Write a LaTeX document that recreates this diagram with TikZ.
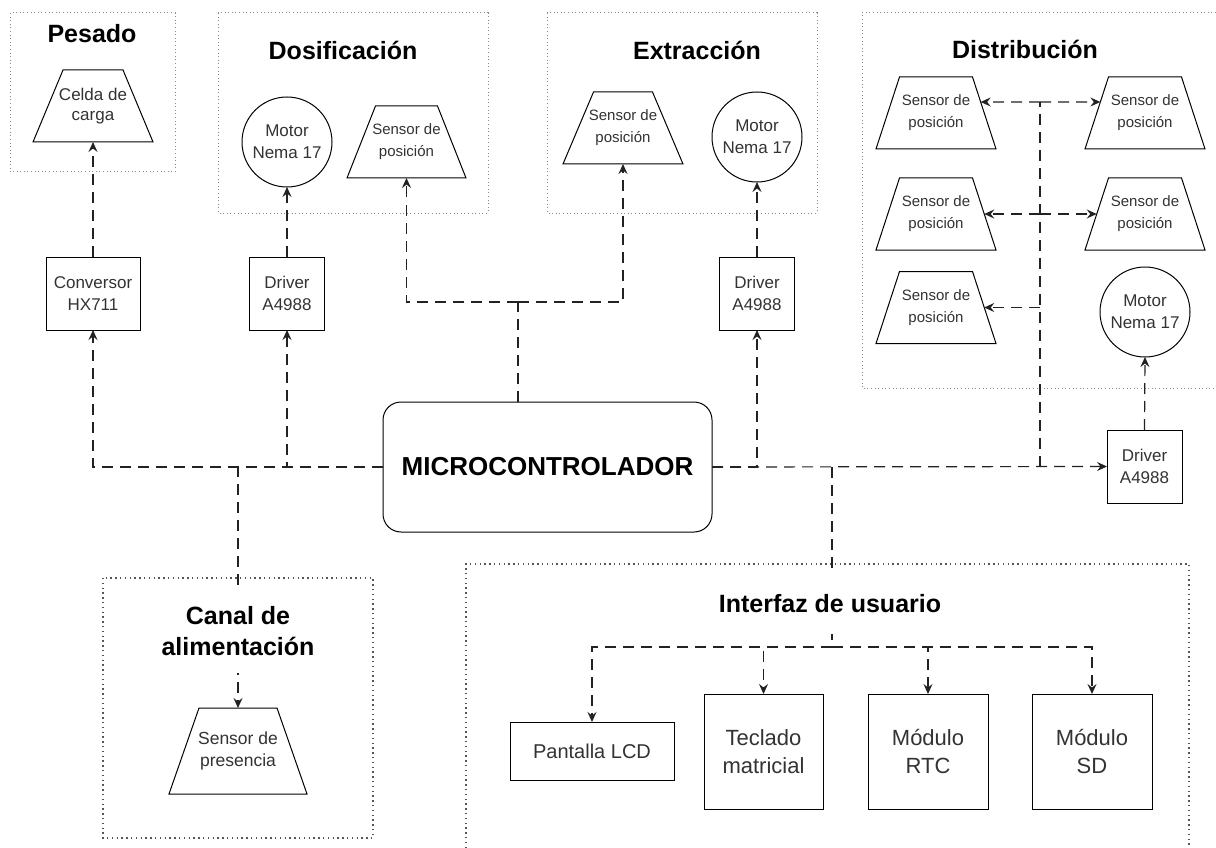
\documentclass[tikz,border=0pt]{standalone}
\usepackage{fontspec}
\setmainfont{Liberation Sans}
\usetikzlibrary{shapes.geometric,arrows.meta,calc}
\definecolor{txt}{HTML}{333333}
\definecolor{grpc}{HTML}{8A8A8A}
\definecolor{grpd}{HTML}{555555}
\definecolor{lnc}{HTML}{222222}
\newcommand\drawtrap[2]{\draw[line width=1pt, draw=black, line join=miter] (#1.south west) -- ($(#1.north west)+(#2,0)$) -- ($(#1.north east)+(-#2,0)$) -- (#1.south east) -- cycle;}
\begin{document}
\begin{tikzpicture}[x=1pt,y=-1pt,
  grp/.style={draw=grpc, line width=1pt, dash pattern=on 1pt off 2.6pt},
  grpb/.style={draw=grpd, line width=1.4pt, dash pattern=on 1.4pt off 3.4pt},
  ttl/.style={font=\bfseries\fontsize{25}{31}\selectfont, text=black, inner sep=0pt, align=center},
  blk/.style={draw=black, line width=1pt, text=txt, font=\fontsize{17}{22}\selectfont, align=center, inner sep=0pt, outer sep=0pt},
  mot/.style={blk, circle, minimum size=90pt},
  trapbox/.style={blk, draw=none, rectangle, font=\fontsize{15}{22}\selectfont},
  ifc/.style={blk, font=\fontsize{22}{28}\selectfont},
  ln/.style={draw=lnc, line width=1.2pt, dash pattern=on 11pt off 7pt},
  conn/.style={ln, -{Stealth[length=10pt,width=9pt,inset=3.5pt]}}]
\useasboundingbox (0,0) rectangle (1216,848);
\fill[white] (0,0) rectangle (1216,848);

% group boxes
\draw[grp] (10,13) rectangle (175,172);
\draw[grp] (218,13) rectangle (488,213);
\draw[grp] (547,13) rectangle (817,213);
\draw[grp] (1216,13) -- (862,13) -- (862,388) -- (1216,388);
\draw[grpb] (103,578) rectangle (373,838);
\draw[grpb] (466,848) -- (466,564) -- (1189,564) -- (1189,848);

% titles (upper)
\node[ttl] (tPes) at (92,34) {Pesado};
\node[ttl] (tDos) at (343,50) {Dosificación};
\node[ttl] (tExt) at (697,50) {Extracción};
\node[ttl] (tDis) at (1025,49) {Distribución};

% Pesado
\node[trapbox, minimum width=120pt, minimum height=72pt, font=\fontsize{17}{20.5}\selectfont] (celda) at (93,106) {Celda de\\carga};
\drawtrap{celda}{30}
\node[blk, minimum width=94pt, minimum height=73pt] (conv) at (93,293.5) {Conversor\\HX711};

% Dosificacion
\node[mot] (motorD) at (287,142) {Motor\\Nema 17};
\node[trapbox, minimum width=119pt, minimum height=72pt] (sensD) at (406.5,142) {Sensor de\\posición};
\drawtrap{sensD}{28.5}
\node[blk, minimum width=75pt, minimum height=73pt] (drvD) at (287,293.5) {Driver\\A4988};

% Extraccion
\node[trapbox, minimum width=120pt, minimum height=72pt] (sensE) at (623,128) {Sensor de\\posición};
\drawtrap{sensE}{30.5}
\node[mot] (motorE) at (757,137) {Motor\\Nema 17};
\node[blk, minimum width=75pt, minimum height=73pt] (drvE) at (757,293.5) {Driver\\A4988};

% Distribucion
\node[trapbox, minimum width=120pt, minimum height=72pt] (L1) at (936,113) {Sensor de\\posición};
\node[trapbox, minimum width=120pt, minimum height=72pt] (L2) at (936,214) {Sensor de\\posición};
\node[trapbox, minimum width=120pt, minimum height=72pt] (L3) at (936,307.5) {Sensor de\\posición};
\node[trapbox, minimum width=120pt, minimum height=72pt] (R1) at (1145,113) {Sensor de\\posición};
\node[trapbox, minimum width=120pt, minimum height=72pt] (R2) at (1145,214) {Sensor de\\posición};
\drawtrap{L1}{23.5}
\drawtrap{L2}{23.5}
\drawtrap{L3}{23.5}
\drawtrap{R1}{23.5}
\drawtrap{R2}{23.5}
\node[mot] (motorR) at (1145,312) {Motor\\Nema 17};
\node[blk, minimum width=75pt, minimum height=73pt] (drvR) at (1144.5,466.5) {Driver\\A4988};

% Micro
\node[blk, rounded corners=18pt, minimum width=329pt, minimum height=130pt, text=black, font=\bfseries\fontsize{26}{30}\selectfont] (micro) at (547.5,467) {MICROCONTROLADOR};

% Canal
\node[trapbox, minimum width=138pt, minimum height=86pt, font=\fontsize{17.5}{21.5}\selectfont] (sensC) at (238,751) {Sensor de\\presencia};
\drawtrap{sensC}{30}

% Interfaz
\node[blk, minimum width=164pt, minimum height=58pt, font=\fontsize{20}{24}\selectfont] (lcd) at (592,751) {Pantalla LCD};
\node[ifc, minimum width=119pt, minimum height=115pt] (tec) at (763.5,751.5) {Teclado\\matricial};
\node[ifc, minimum width=120pt, minimum height=115pt] (rtc) at (928,751.5) {Módulo\\RTC};
\node[ifc, minimum width=120pt, minimum height=115pt] (sd) at (1092,751.5) {Módulo\\SD};

% connectors
\draw[conn] (conv.north) -- (celda.south);
\draw[conn] (drvD.north) -- (motorD.south);
\draw[conn] (drvE.north) -- (motorE.south);
\draw[conn] (drvR.north) -- (motorR.south);

\draw[conn] (micro.west) -| (conv.south);
\draw[conn] (micro.west) -| (drvD.south);
\draw[conn] (micro.west) -| (sensC.north);

\coordinate (mtop) at ([xshift=-29.5pt]micro.north);
\coordinate (jt) at (518,302);
\draw[ln] (mtop) -- (jt);
\draw[conn] (jt) -| (sensD.south);
\draw[conn] (jt) -| (sensE.south);

\draw[conn] (micro.east) -| (drvE.south);
\draw[conn] (micro.east) -- (drvR.west);

\coordinate (jR) at (1040,467);
\coordinate (jR1) at (1040,102);
\coordinate (jR2) at (1040,214);
\coordinate (jR3) at (1040,307.5);
\coordinate (L1s) at ($($(L1.north east)+(-23.5,0)$)!0.347!(L1.south east)$);
\coordinate (L2s) at ($($(L2.north east)+(-23.5,0)$)!0.5!(L2.south east)$);
\coordinate (L3s) at ($($(L3.north east)+(-23.5,0)$)!0.5!(L3.south east)$);
\coordinate (R1s) at ($($(R1.north west)+(23.5,0)$)!0.347!(R1.south west)$);
\coordinate (R2s) at ($($(R2.north west)+(23.5,0)$)!0.5!(R2.south west)$);
\draw[ln] (jR) -- (jR1);
\draw[conn] (jR1) -- (L1s);
\draw[conn] (jR1) -- (R1s);
\draw[conn] (jR2) -- (L2s);
\draw[conn] (jR2) -- (R2s);
\draw[conn] (jR3) -- (L3s);

\coordinate (jI) at (832,467);
\coordinate (jI2) at (832,647);
\draw[ln] (jI) -- (jI2);
\draw[conn] (jI2) -| (lcd.north);
\draw[conn] (jI2) -| (tec.north);
\draw[conn] (jI2) -| (rtc.north);
\draw[conn] (jI2) -| (sd.north);

% titles over connectors
\node[ttl, fill=white, minimum width=200pt, minimum height=84pt] (tCan) at (238,631) {Canal de\\alimentación};
\node[ttl, fill=white, inner xsep=4pt, minimum height=60pt] (tInt) at (830,604) {Interfaz de usuario};
\end{tikzpicture}
\end{document}
